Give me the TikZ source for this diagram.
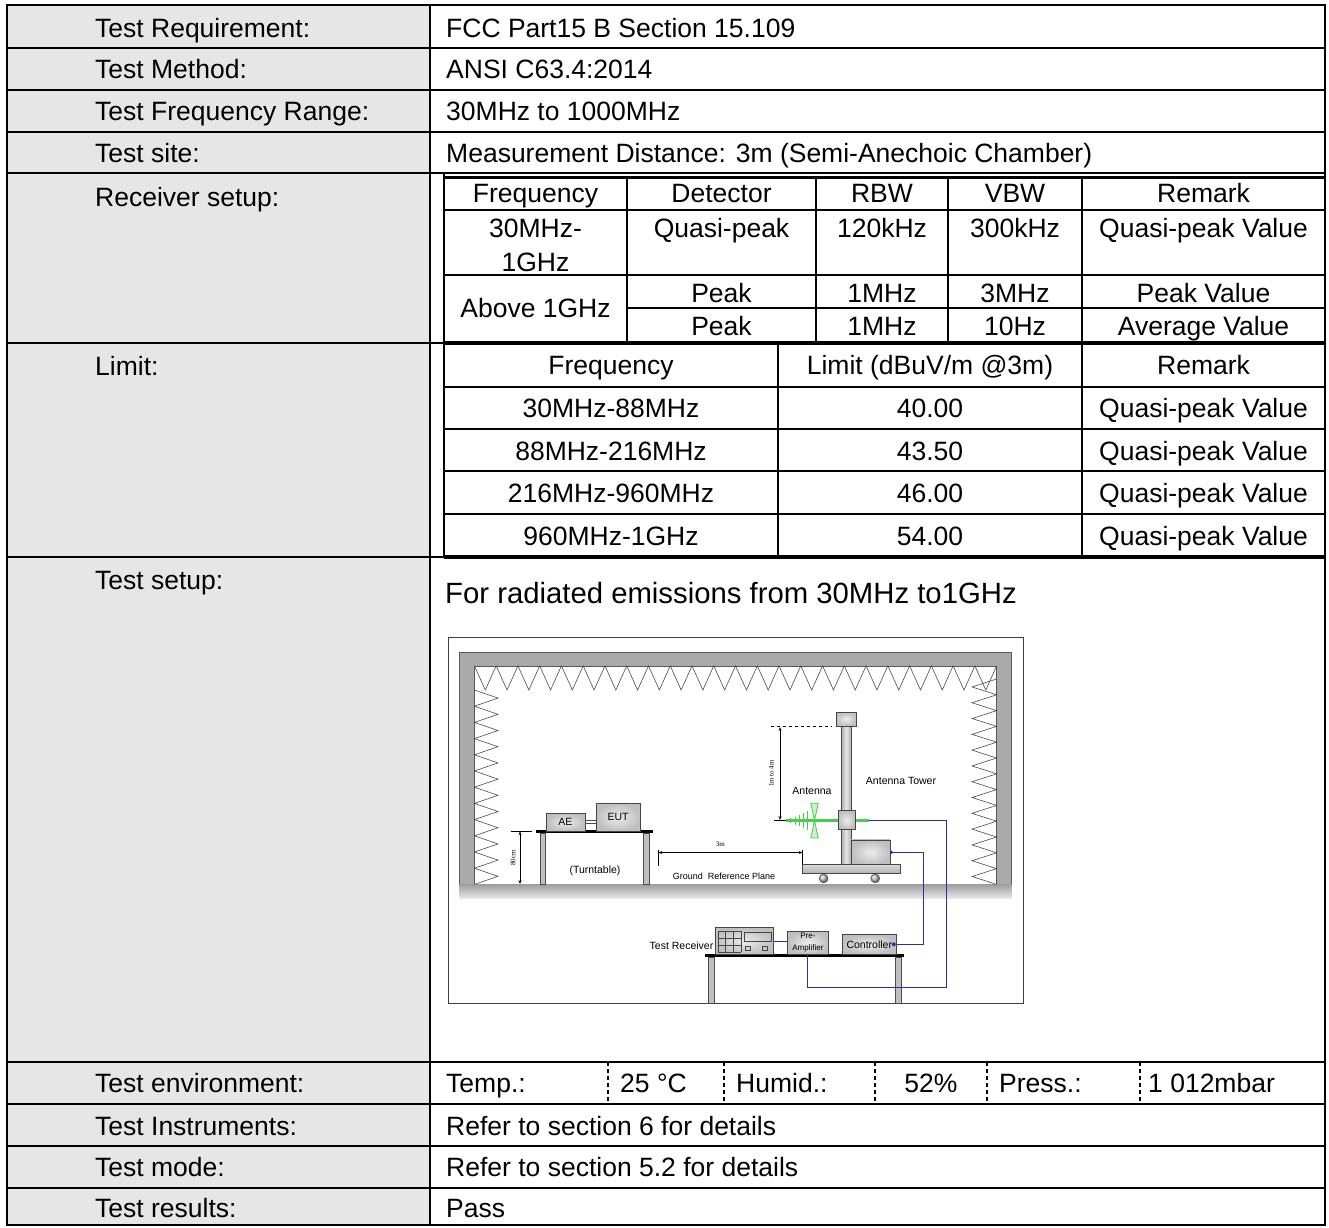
\documentclass[tikz,border=0pt]{standalone}
\usepackage{fontspec}
\setmainfont{Liberation Sans}
\newfontfamily\serifdim{Liberation Serif}
\usepackage{tikz}
\usetikzlibrary{arrows.meta}
\definecolor{labelgray}{RGB}{230,230,230}
\definecolor{wallgray}{RGB}{170,170,170}
\definecolor{cableblue}{RGB}{45,45,165}
\definecolor{antgreen}{RGB}{75,205,75}
\newcommand{\tabfont}{\fontsize{26.5}{34}\selectfont}
\newcommand{\bigtabfont}{\fontsize{29.3}{35}\selectfont}
\newcommand{\rigfont}{\fontsize{10.5}{12}\selectfont}
\newcommand{\prefont}{\fontsize{8}{12}\selectfont}
\newcommand{\gndfont}{\fontsize{9}{11}\selectfont}
\newcommand{\dimfont}{\serifdim\fontsize{7}{8}\selectfont}
\tikzset{
  rowline/.style={line width=2pt},
  thickline/.style={line width=4pt},
  envsep/.style={line width=1.5pt, dash pattern=on 4pt off 3pt},
  lbl/.style={anchor=base west, inner sep=0pt, font=\tabfont},
  tcell/.style={anchor=base, inner sep=0pt, font=\tabfont},
  gearbox/.style={draw=gray!55!black, line width=0.6pt, inner color=gray!15, outer color=gray!50, inner sep=0pt},
  zig/.style={draw=gray!60!black, line width=0.6pt},
  cable/.style={draw=cableblue, line width=1pt},
  rigtext/.style={inner sep=0pt, font=\rigfont},
  dimtext/.style={inner sep=0pt, font=\dimfont},
}

\begin{document}
\begin{tikzpicture}[x=1pt, y=-1pt, >={Stealth[length=4pt, width=3pt]}]
        \useasboundingbox (0,0) rectangle (1329,1227);

        % Label column and grid
        \fill[labelgray] (7,5) rectangle (430,1225);
        \foreach \y in {48,90,132,173,343,557,1062,1104,1146,1188}
            \draw[rowline] (7,\y) -- (1325,\y);
        \draw[rowline] (7,5) rectangle (1325,1225);
        \draw[rowline] (430,5) -- (430,1225);

        % Receiver setup table
        \draw[rowline] (444,173) -- (444,557);
        \draw[line width=3pt] (444,177) -- (1325,177);
        \draw[rowline] (444,210) -- (1325,210);
        \draw[rowline] (444,275) -- (1325,275);
        \draw[rowline] (627,308) -- (1325,308);
        \foreach \x in {627,816,948,1082}
            \draw[rowline] (\x,177) -- (\x,343);
        \draw[thickline] (444,343) -- (1325,343);

        % Limit table
        \foreach \y in {387,429,471,514}
            \draw[rowline] (444,\y) -- (1325,\y);
        \foreach \x in {778,1082}
            \draw[rowline] (\x,343) -- (\x,557);
        \draw[thickline] (444,557) -- (1325,557);

        % Environment separators
        \foreach \x in {608,724,875,987,1140}
            \draw[envsep] (\x,1062) -- (\x,1104);

        % Labels
        \node[lbl] (reqlbl) at (95,37.5) {Test Requirement:};
        \node[lbl] (methlbl) at (95,78.5) {Test Method:};
        \node[lbl] (rangelbl) at (95,120.5) {Test Frequency Range:};
        \node[lbl] (sitelbl) at (95,162.5) {Test site:};
        \node[lbl] (rxlbl) at (95,206.5) {Receiver setup:};
        \node[lbl] (limlbl) at (95,375.5) {Limit:};
        \node[lbl] (setuplbl) at (95,589.5) {Test setup:};
        \node[lbl] (envlbl) at (95,1092.5) {Test environment:};
        \node[lbl] (instlbl) at (95,1135.5) {Test Instruments:};
        \node[lbl] (modelbl) at (95,1176.5) {Test mode:};
        \node[lbl] (reslbl) at (95,1217.5) {Test results:};

        % Values
        \node[lbl] (reqval) at (446,37.5) {FCC Part15 B Section 15.109};
        \node[lbl] (methval) at (446,78.5) {ANSI C63.4:2014};
        \node[lbl] (rangeval) at (446,120.5) {30MHz to 1000MHz};
        \node[lbl] (siteval) at (446,162.5) {Measurement Distance: 3m (Semi-Anechoic Chamber)};
        \node[lbl, font=\bigtabfont] (setupval) at (445,603.5) {For radiated emissions from 30MHz to1GHz};
        \node[lbl] (instval) at (446,1135.5) {Refer to section 6 for details};
        \node[lbl] (modeval) at (446,1176.5) {Refer to section 5.2 for details};
        \node[lbl] (resval) at (446,1217.5) {Pass};

        % Environment values
        \node[lbl] (temp) at (446,1092.5) {Temp.:};
        \node[lbl] (tempval) at (620,1092.5) {25 °C};
        \node[lbl] (humid) at (736,1092.5) {Humid.:};
        \node[tcell] (humidval) at (931,1092.5) {52\%};
        \node[lbl] (press) at (999,1092.5) {Press.:};
        \node[lbl] (pressval) at (1148,1092.5) {1 012mbar};

        % Receiver setup cells
        \node[tcell] (rxf) at (535.5,202.5) {Frequency};
        \node[tcell] (rxd) at (721.5,202.5) {Detector};
        \node[tcell] (rxr) at (882,202.5) {RBW};
        \node[tcell] (rxv) at (1015,202.5) {VBW};
        \node[tcell] (rxm) at (1203.5,202.5) {Remark};
        \node[tcell] (qpfa) at (535.5,237.5) {30MHz-};
        \node[tcell] (qpfb) at (535.5,271.5) {1GHz};
        \node[tcell] (qpd) at (721.5,237.5) {Quasi-peak};
        \node[tcell] (qpr) at (882,237.5) {120kHz};
        \node[tcell] (qpv) at (1015,237.5) {300kHz};
        \node[tcell] (qpm) at (1203.5,237.5) {Quasi-peak Value};
        \node[tcell] (pkf) at (535.5,317.5) {Above 1GHz};
        \node[tcell] (pkd) at (721.5,302.5) {Peak};
        \node[tcell] (pkr) at (882,302.5) {1MHz};
        \node[tcell] (pkv) at (1015,302.5) {3MHz};
        \node[tcell] (pkm) at (1203.5,302.5) {Peak Value};
        \node[tcell] (avd) at (721.5,335.5) {Peak};
        \node[tcell] (avr) at (882,335.5) {1MHz};
        \node[tcell] (avv) at (1015,335.5) {10Hz};
        \node[tcell] (avm) at (1203.5,335.5) {Average Value};

        % Limit cells
        \node[tcell] (limf) at (611,374.5) {Frequency};
        \node[tcell] (limv) at (930,374.5) {Limit (dBuV/m @3m)};
        \node[tcell] (limm) at (1203.5,374.5) {Remark};
        \node[tcell] (fa) at (611,417.5) {30MHz-88MHz};
        \node[tcell] (va) at (930,417.5) {40.00};
        \node[tcell] (ma) at (1203.5,417.5) {Quasi-peak Value};
        \node[tcell] (fb) at (611,460) {88MHz-216MHz};
        \node[tcell] (vb) at (930,460) {43.50};
        \node[tcell] (mb) at (1203.5,460) {Quasi-peak Value};
        \node[tcell] (fc) at (611,502.5) {216MHz-960MHz};
        \node[tcell] (vc) at (930,502.5) {46.00};
        \node[tcell] (mc) at (1203.5,502.5) {Quasi-peak Value};
        \node[tcell] (fd) at (611,545) {960MHz-1GHz};
        \node[tcell] (vd) at (930,545) {54.00};
        \node[tcell] (md) at (1203.5,545) {Quasi-peak Value};

        % Test setup drawing
        \begin{scope}
            \draw[gray!50!black, line width=0.8pt] (448,637) rectangle (1023,1003);
            % chamber
            \fill[wallgray] (459.3,652.6) rectangle (1011.7,884.6);
            \fill[white] (474.4,665.8) rectangle (996.6,884.6);
            \draw[gray!70!black, line width=0.5pt] (459.3,884.6) -- (459.3,652.6) -- (1011.7,652.6) -- (1011.7,884.6);
            \draw[gray!70!black, line width=0.5pt] (474.4,884.6) -- (474.4,665.8) -- (996.6,665.8) -- (996.6,884.6);
            \shade[top color=gray!75, bottom color=gray!15] (459.3,884.6) rectangle (1011.7,898.9);
            % absorbers
            \draw[zig] (474.4,665.8) \foreach \i in {1,...,24} {-- ++(10.88,24.2) -- ++(10.88,-24.2)};
            \draw[zig] (474.4,690) \foreach \i in {1,...,12} {-- ++(23.6,8.1) -- ++(-23.6,8.1)};
            \draw[zig] (996.6,679) \foreach \i in {1,...,13} {-- ++(-24.6,7.9) -- ++(24.6,7.9)};

            % turntable
            \filldraw[fill=gray!50, draw=gray!60!black, line width=0.5pt] (540,833) rectangle (545.5,884.6);
            \filldraw[fill=gray!50, draw=gray!60!black, line width=0.5pt] (643.5,833) rectangle (649,884.6);
            \draw[line width=3pt] (535.8,831.3) -- (652.6,831.3);
            \node[gearbox, minimum width=38.8, minimum height=17.5, font=\rigfont] (ae) at (565.4,822.2) {AE};
            \node[gearbox, minimum width=44, minimum height=27.5, font=\rigfont] (eut) at (618,817.2) {EUT};
            \draw[gray!60!black, line width=0.5pt] ([yshift=1.7pt]ae.east) -- ([yshift=1.7pt]ae.east -| eut.west);
            \draw[gray!60!black, line width=0.5pt] ([yshift=-1.2pt]ae.east) -- ([yshift=-1.2pt]ae.east -| eut.west);
            \node[rigtext] (turnlbl) at (595,870.4) {(Turntable)};

            % 80cm
            \draw[line width=0.6pt] (510.5,831.3) -- (532,831.3);
            \draw[<->, line width=0.6pt] (520,831.3) -- (520,884);
            \node[dimtext, rotate=90] (cmlbl) at (513,858) {80cm};

            % 3m
            \draw[line width=0.6pt] (658.3,849.8) -- (658.3,866.4);
            \draw[line width=0.6pt] (802.6,849.8) -- (802.6,869.7);
            \draw[<->, line width=0.6pt] (658.3,852.5) -- (802.6,852.5);
            \node[dimtext] (mlbl) at (720.4,844.6) {3m};
            \node[inner sep=0pt, font=\gndfont] (gndlbl) at (724,876.3) {Ground\ \ Reference Plane};

            % antenna tower
            \shadedraw[left color=gray!65, right color=gray!65, middle color=gray!20, draw=gray!55!black, line width=0.6pt] (841,726) rectangle (851.3,864.7);
            \node[gearbox, minimum width=39, minimum height=25] (cabinet) at (870.7,852.4) {};
            \shadedraw[top color=gray!30, bottom color=gray!60, draw=gray!55!black, line width=0.6pt] (802.2,864.7) rectangle (900.2,873);
            \shadedraw[ball color=gray!50, draw=gray!55!black, line width=0.4pt] (823.6,878.4) circle (4.5);
            \shadedraw[ball color=gray!50, draw=gray!55!black, line width=0.4pt] (875.2,878.4) circle (4.5);
            \node[gearbox, minimum width=20, minimum height=14] (towertop) at (846,719) {};

            % antenna
            \draw[antgreen, line width=3pt] (786.4,820.6) -- (869,820.6);
            \foreach \x/\h in {790.1/2.5, 795.8/4, 799.6/5.5, 803.3/7.5, 807.1/9.5}
                \draw[antgreen, line width=1pt] (\x,{820.6-\h}) -- (\x,{820.6+\h});
            \draw[antgreen, line width=0.8pt, fill=antgreen!30] (810.8,803.3) -- (818.2,803.3) -- (814.5,820.6) -- cycle;
            \draw[antgreen, line width=0.8pt, fill=antgreen!30] (810.8,837.9) -- (818.2,837.9) -- (814.5,820.6) -- cycle;
            \node[gearbox, minimum width=17, minimum height=18.6] (mount) at (846.5,820) {};
            \coordinate (boomend) at (869,820.6);

            % 1m to 4m
            \draw[dashed, line width=0.6pt] (770.5,726.2) -- (831.8,726.2);
            \draw[<->, line width=0.6pt] (780,727) -- (780,820);
            \draw[line width=0.6pt] (774.3,820.6) -- (785.6,820.6);
            \node[dimtext, rotate=90] (hlbl) at (771.4,773.5) {1m to 4m};
            \node[rigtext] (antlbl) at (812,791) {Antenna};
            \node[rigtext] (towerlbl) at (901,781) {Antenna Tower};

            % receiver table
            \filldraw[fill=gray!50, draw=gray!60!black, line width=0.5pt] (708.1,957) rectangle (714.2,1003);
            \filldraw[fill=gray!50, draw=gray!60!black, line width=0.5pt] (894.9,957) rectangle (900.9,1003);
            \draw[line width=3pt] (705.4,955.2) -- (903.9,955.2);
            \node[gearbox, minimum width=58.4, minimum height=26.5] (receiver) at (744,941) {};
            \foreach \i in {0,1,2,3} {
                \draw[gray!55!black, line width=0.4pt] ({717.8+7.8*\i},931) -- ++(0,21);
                \draw[gray!55!black, line width=0.4pt] (717.8,{931+7*\i}) -- ++(23.4,0);
            }
            \draw[gray!55!black, line width=0.4pt] (744.2,932.4) rectangle (771.3,940.8);
            \draw[gray!55!black, line width=0.4pt] (745.6,946) rectangle ++(4.5,4.5);
            \draw[gray!55!black, line width=0.4pt] (762.3,946) rectangle ++(4.5,4.5);
            \node[gearbox, minimum width=41.5, minimum height=23.2, align=center, font=\prefont] (preamp) at (807.9,942.6) {Pre-\\Amplifier};
            \node[gearbox, minimum width=54.3, minimum height=19.8, font=\rigfont] (controller) at (869.3,944.3) {Controller};
            \node[rigtext, anchor=east] (rxtext) at (713.5,945.6) {Test Receiver};

            % cables
            \draw[cable] (receiver.east) -- (receiver.east -| preamp.west);
            \draw[cable] (boomend) -- (946.4,820.6) -- (946.4,987.4) -| (preamp.south);
            \draw[cable] (cabinet.east) -- (923.9,852.4) |- (controller.east);
            \fill[cableblue] ([xshift=1pt]cabinet.east) circle (1.8);
            \fill[cableblue] ([xshift=-3pt]controller.east) circle (2);
        \end{scope}
    \end{tikzpicture}
\end{document}
